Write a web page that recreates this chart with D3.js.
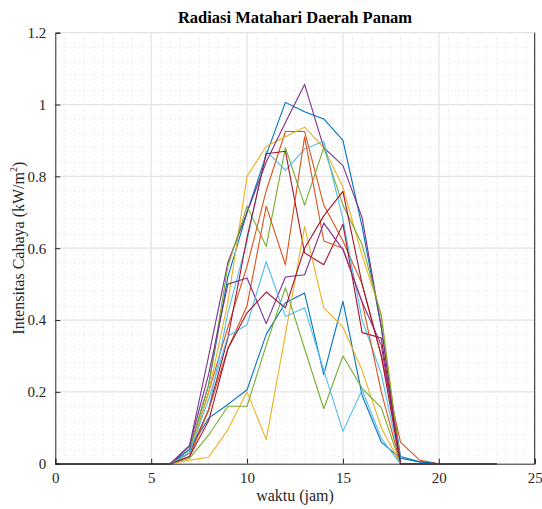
<!DOCTYPE html>
<html>
<head>
<meta charset="utf-8">
<script src="https://cdn.jsdelivr.net/npm/d3@7"></script>
<style>
  body { margin: 0; background: #fff; }
  svg { display: block; font-family: "Liberation Serif", "Times New Roman", serif; }
</style>
</head>
<body>
<div id="main"></div>
<script>
// jam 0..23
const hours = d3.range(0, 24);

// satu deret per hari, urutan warna mengikuti colororder MATLAB
const day1  = [0,0,0,0,0,0,0, 0.04, 0.22, 0.52, 0.70, 0.86, 1.006, 0.98, 0.96, 0.90, 0.66, 0.38, 0.02, 0.005, 0,0,0,0];
const day2  = [0,0,0,0,0,0,0, 0.03, 0.20, 0.38, 0.55, 0.76, 0.925, 0.925, 0.72, 0.62, 0.50, 0.30, 0.06, 0.01, 0,0,0,0];
const day3  = [0,0,0,0,0,0,0, 0.03, 0.20, 0.45, 0.80, 0.884, 0.91, 0.937, 0.88, 0.77, 0.58, 0.415, 0, 0, 0,0,0,0];
const day4  = [0,0,0,0,0,0,0, 0.05, 0.30, 0.56, 0.70, 0.84, 0.95, 1.056, 0.88, 0.83, 0.685, 0.38, 0, 0, 0,0,0,0];
const day5  = [0,0,0,0,0,0,0, 0.04, 0.22, 0.55, 0.717, 0.605, 0.88, 0.72, 0.88, 0.72, 0.61, 0.41, 0, 0, 0,0,0,0];
const day6  = [0,0,0,0,0,0,0, 0.03, 0.15, 0.42, 0.62, 0.87, 0.817, 0.876, 0.898, 0.68, 0.40, 0.25, 0, 0, 0,0,0,0];
const day7  = [0,0,0,0,0,0,0, 0.03, 0.15, 0.35, 0.63, 0.863, 0.87, 0.587, 0.554, 0.667, 0.365, 0.35, 0, 0, 0,0,0,0];
const day8  = [0,0,0,0,0,0,0, 0.04, 0.127, 0.165, 0.206, 0.36, 0.448, 0.475, 0.248, 0.452, 0.19, 0.06, 0.015, 0.005, 0,0,0,0];
const day9  = [0,0,0,0,0,0,0, 0.02, 0.15, 0.32, 0.44, 0.717, 0.554, 0.91, 0.62, 0.60, 0.45, 0.20, 0, 0, 0,0,0,0];
const day10 = [0,0,0,0,0,0,0, 0.01, 0.018, 0.095, 0.20, 0.067, 0.36, 0.66, 0.434, 0.38, 0.26, 0.10, 0, 0, 0,0,0,0];
const day11 = [0,0,0,0,0,0,0, 0.05, 0.25, 0.50, 0.517, 0.39, 0.52, 0.526, 0.67, 0.596, 0.45, 0.33, 0, 0, 0,0,0,0];
const day12 = [0,0,0,0,0,0,0, 0.015, 0.08, 0.16, 0.16, 0.33, 0.49, 0.32, 0.153, 0.30, 0.21, 0.156, 0, 0, 0,0,0,0];
const day13 = [0,0,0,0,0,0,0, 0.03, 0.18, 0.355, 0.387, 0.563, 0.41, 0.434, 0.26, 0.09, 0.206, 0.07, 0, 0, 0,0,0,0];
const day14 = [0,0,0,0,0,0,0, 0.02, 0.12, 0.32, 0.42, 0.478, 0.434, 0.60, 0.69, 0.758, 0.50, 0.30, 0, 0, 0,0,0,0];

const series = [day1, day2, day3, day4, day5, day6, day7, day8, day9, day10, day11, day12, day13, day14];
const colors = ["#0072BD", "#D95319", "#EDB120", "#7E2F8E", "#77AC30", "#4DBEEE", "#A2142F"];

const xTicks = [0, 5, 10, 15, 20, 25];
const yTicks = [0, 0.2, 0.4, 0.6, 0.8, 1, 1.2];

const config = {div: "#main", width: 542, height: 509, top: 32.7, left: 55.3, right: 7.3, bottom: 45.3};

const svg = d3.select(config.div)
    .append("svg")
    .attr("width", config.width)
    .attr("height", config.height);

const x = d3.scaleLinear().domain([0, 25]).range([config.left, config.width - config.right]);
const y = d3.scaleLinear().domain([0, 1.2]).range([config.height - config.bottom, config.top]);

// minor grid (titik-titik)
const grid = svg.append("g");
grid.selectAll(".mx")
    .data(d3.range(0, 25.01, 0.5).filter(v => v % 5 !== 0))
    .join("line")
    .attr("x1", d => x(d)).attr("x2", d => x(d))
    .attr("y1", y(0)).attr("y2", y(1.2))
    .attr("stroke", "#d4d4d4")
    .attr("stroke-width", 0.7)
    .attr("stroke-dasharray", "1,3");
grid.selectAll(".my")
    .data(d3.range(0, 1.2001, 0.04).filter(v => Math.abs(v / 0.2 - Math.round(v / 0.2)) > 1e-6))
    .join("line")
    .attr("x1", x(0)).attr("x2", x(25))
    .attr("y1", d => y(d)).attr("y2", d => y(d))
    .attr("stroke", "#d4d4d4")
    .attr("stroke-width", 0.7)
    .attr("stroke-dasharray", "1,3");

// major grid
grid.selectAll(".gx")
    .data(xTicks.slice(1))
    .join("line")
    .attr("x1", d => x(d)).attr("x2", d => x(d))
    .attr("y1", y(0)).attr("y2", y(1.2))
    .attr("stroke", "#e3e3e3")
    .attr("stroke-width", 1.2);
grid.selectAll(".gy")
    .data(yTicks.slice(1))
    .join("line")
    .attr("x1", x(0)).attr("x2", x(25))
    .attr("y1", d => y(d)).attr("y2", d => y(d))
    .attr("stroke", "#e3e3e3")
    .attr("stroke-width", 1.2);

// garis data
const line = d3.line()
    .x((d, i) => x(hours[i]))
    .y(d => y(d));

svg.append("g")
    .selectAll("path")
    .data(series)
    .join("path")
    .attr("d", d => line(d))
    .attr("fill", "none")
    .attr("stroke", (d, i) => colors[i % colors.length])
    .attr("stroke-width", 1.1)
    .attr("stroke-linejoin", "round");

// sumbu (tick ke dalam seperti MATLAB)
const xAxis = d3.axisBottom(x).tickValues(xTicks).tickSize(-5).tickPadding(9).tickFormat(d3.format("d"));
const yAxis = d3.axisLeft(y).tickValues(yTicks).tickSize(-5).tickPadding(9).tickFormat(d => d);

svg.append("g")
    .attr("transform", `translate(0,${y(0)})`)
    .call(xAxis)
    .call(g => g.select(".domain").attr("stroke", "#262626"))
    .call(g => g.selectAll(".tick line").attr("stroke", "#262626"))
    .call(g => g.selectAll("text").attr("font-size", 15).attr("fill", "#262626").attr("font-family", "Liberation Serif"));

svg.append("g")
    .attr("transform", `translate(${x(0)},0)`)
    .call(yAxis)
    .call(g => g.select(".domain").attr("stroke", "#262626"))
    .call(g => g.selectAll(".tick line").attr("stroke", "#262626"))
    .call(g => g.selectAll("text").attr("font-size", 15).attr("fill", "#262626").attr("font-family", "Liberation Serif"));

// tepi kanan
svg.append("line")
    .attr("x1", x(25)).attr("x2", x(25))
    .attr("y1", y(0)).attr("y2", y(1.2))
    .attr("stroke", "#262626")
    .attr("stroke-width", 1);

// judul dan label
svg.append("text")
    .attr("x", (x(0) + x(25)) / 2)
    .attr("y", 23)
    .attr("text-anchor", "middle")
    .attr("font-size", 16.5)
    .attr("font-weight", "bold")
    .attr("fill", "#000")
    .text("Radiasi Matahari Daerah Panam");

svg.append("text")
    .attr("x", (x(0) + x(25)) / 2)
    .attr("y", 501)
    .attr("text-anchor", "middle")
    .attr("font-size", 16)
    .attr("fill", "#262626")
    .text("waktu (jam)");

const yLabel = svg.append("text")
    .attr("transform", `translate(24,${(y(0) + y(1.2)) / 2}) rotate(-90)`)
    .attr("text-anchor", "middle")
    .attr("font-size", 16)
    .attr("fill", "#262626");
yLabel.append("tspan").text("Intensitas Cahaya (kW/m");
yLabel.append("tspan").attr("font-size", 10).attr("dy", -7).text("2");
yLabel.append("tspan").attr("dy", 7).text(")");
</script>
</body>
</html>
